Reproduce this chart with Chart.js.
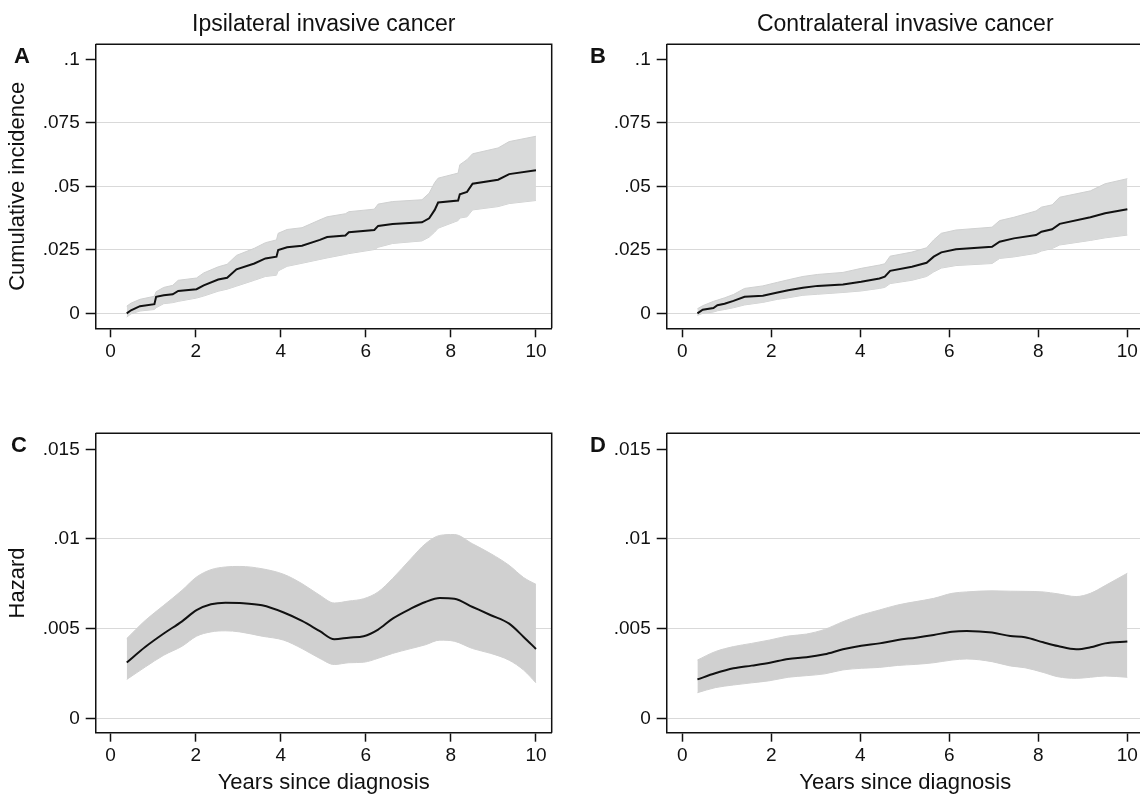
<!DOCTYPE html>
<html>
<head>
<meta charset="utf-8">
<title>Cumulative incidence and hazard</title>
<script src="https://cdn.jsdelivr.net/npm/chart.js@4.4.1/dist/chart.umd.min.js"></script>
<style>
  html, body { margin: 0; padding: 0; background: #fff; overflow: hidden; }
  #page { position: relative; width: 1140px; height: 796px; overflow: hidden; }
  canvas { position: absolute; }
  .tag { position: absolute; font: bold 22px 'Liberation Sans', Arial, sans-serif; line-height: 22px; color: #111; }
</style>
</head>
<body>
<div id="page">
  <canvas id="chart-a" width="570" height="390" style="left:0;top:0;width:570px;height:390px"></canvas>
  <canvas id="chart-b" width="600" height="390" style="left:570px;top:0;width:600px;height:390px"></canvas>
  <canvas id="chart-c" width="570" height="406" style="left:0;top:390px;width:570px;height:406px"></canvas>
  <canvas id="chart-d" width="600" height="406" style="left:570px;top:390px;width:600px;height:406px"></canvas>
  <div class="tag" style="left:14px;top:45px">A</div>
  <div class="tag" style="left:590px;top:45px">B</div>
  <div class="tag" style="left:11px;top:434px">C</div>
  <div class="tag" style="left:590px;top:434px">D</div>
</div>
<script>
/* ---- axis ticks ---- */
const xTicks = [0, 2, 4, 6, 8, 10];
const xTickLabels = ['0', '2', '4', '6', '8', '10'];
const ciTicks = [0, 0.025, 0.05, 0.075, 0.1];
const ciTickLabels = ['0', '.025', '.05', '.075', '.1'];
const hzTicks = [0, 0.005, 0.01, 0.015];
const hzTickLabels = ['0', '.005', '.01', '.015'];

/* ---- A: ipsilateral, cumulative incidence ---- */
const aYears = [0.38, 0.48, 0.69, 1.03, 1.07, 1.25, 1.46, 1.59, 2.02, 2.19, 2.53, 2.74, 2.96, 3.38, 3.64, 3.9, 3.94, 4.15, 4.5, 4.92, 5.09, 5.52, 5.6, 6.2, 6.29, 6.63, 7.32, 7.49, 7.62, 7.7, 8.17, 8.21, 8.38, 8.51, 9.11, 9.37, 10];
const aEst = [0, 0.0012, 0.0028, 0.0036, 0.0065, 0.0071, 0.0075, 0.0088, 0.0095, 0.011, 0.0133, 0.014, 0.0173, 0.0196, 0.0216, 0.0223, 0.0249, 0.026, 0.0266, 0.0289, 0.030, 0.0306, 0.0319, 0.0328, 0.0344, 0.0352, 0.0358, 0.0374, 0.0407, 0.0436, 0.0444, 0.0469, 0.0478, 0.051, 0.0526, 0.0548, 0.0563];
const aHi = [0.0028, 0.004, 0.0055, 0.0067, 0.0085, 0.0102, 0.011, 0.013, 0.0139, 0.0159, 0.0183, 0.0193, 0.0228, 0.0256, 0.0278, 0.0289, 0.0315, 0.033, 0.0337, 0.0368, 0.038, 0.0392, 0.04, 0.041, 0.043, 0.044, 0.0447, 0.0473, 0.0515, 0.0532, 0.0552, 0.0585, 0.0605, 0.0628, 0.0651, 0.0676, 0.0697];
const aLo = [-0.0015, -0.0002, 0.0009, 0.0015, 0.0022, 0.0038, 0.0042, 0.0047, 0.006, 0.0068, 0.0087, 0.0095, 0.0107, 0.013, 0.0145, 0.015, 0.0167, 0.0185, 0.0197, 0.0212, 0.0218, 0.0232, 0.0235, 0.0251, 0.026, 0.0275, 0.0285, 0.030, 0.032, 0.0335, 0.0365, 0.0375, 0.038, 0.0407, 0.042, 0.0432, 0.0444];

/* ---- B: contralateral, cumulative incidence ---- */
const bYears = [0.34, 0.46, 0.7, 0.79, 0.95, 1.15, 1.4, 1.81, 2.14, 2.38, 2.71, 3.04, 3.61, 4.02, 4.43, 4.55, 4.67, 5.16, 5.49, 5.65, 5.82, 6.15, 6.96, 7.13, 7.45, 7.95, 8.07, 8.31, 8.48, 9.17, 9.5, 10];
const bEst = [0, 0.0014, 0.0021, 0.0032, 0.0038, 0.0049, 0.0065, 0.0069, 0.0082, 0.0091, 0.0101, 0.0108, 0.0113, 0.0124, 0.0137, 0.0144, 0.0167, 0.0183, 0.0199, 0.0223, 0.024, 0.0252, 0.0262, 0.0282, 0.0295, 0.0308, 0.0321, 0.0331, 0.0352, 0.0378, 0.0394, 0.041];
const bHi = [0.0018, 0.003, 0.0047, 0.0052, 0.0061, 0.0074, 0.0098, 0.0108, 0.0122, 0.0132, 0.0145, 0.0153, 0.0161, 0.0177, 0.019, 0.0195, 0.0225, 0.0241, 0.0258, 0.0289, 0.0315, 0.0328, 0.0339, 0.0365, 0.0378, 0.0403, 0.0418, 0.0427, 0.0457, 0.0482, 0.051, 0.053];
const bLo = [-0.0008, 0, 0.0005, 0.001, 0.0015, 0.0022, 0.0033, 0.0043, 0.0055, 0.0061, 0.0071, 0.0075, 0.0082, 0.0088, 0.0098, 0.0102, 0.0117, 0.013, 0.0145, 0.0163, 0.0178, 0.0188, 0.0196, 0.0216, 0.0222, 0.0236, 0.0245, 0.0255, 0.0269, 0.0287, 0.0297, 0.0308];

/* ---- C: ipsilateral, hazard ---- */
const cYears = [0.38, 0.82, 1.25, 1.68, 2.02, 2.36, 2.7, 3.04, 3.56, 4.07, 4.5, 4.92, 5.26, 5.6, 5.95, 6.29, 6.63, 7.06, 7.4, 7.74, 8.08, 8.51, 8.94, 9.37, 9.71, 10];
const cEst = [0.00311, 0.00399, 0.00473, 0.00541, 0.00603, 0.00636, 0.00645, 0.00643, 0.0063, 0.0059, 0.00543, 0.00486, 0.00441, 0.0045, 0.00458, 0.00495, 0.00556, 0.00612, 0.00649, 0.00671, 0.00667, 0.00621, 0.00575, 0.00528, 0.00454, 0.00387];
const cHi = [0.00445, 0.00547, 0.0063, 0.00714, 0.00788, 0.00829, 0.00844, 0.00847, 0.00834, 0.00803, 0.00751, 0.00686, 0.00643, 0.00654, 0.00667, 0.00705, 0.0078, 0.0089, 0.00973, 0.0102, 0.01025, 0.00973, 0.00918, 0.00853, 0.00785, 0.00747];
const cLo = [0.00217, 0.00287, 0.00352, 0.00402, 0.00458, 0.00482, 0.00488, 0.00482, 0.00458, 0.00436, 0.00389, 0.00334, 0.003, 0.0031, 0.00313, 0.00335, 0.00362, 0.00389, 0.0041, 0.00436, 0.0043, 0.00389, 0.00362, 0.00324, 0.00269, 0.00198];

/* ---- D: contralateral, hazard ---- */
const dYears = [0.34, 0.74, 1.15, 1.56, 1.97, 2.38, 2.79, 3.2, 3.61, 4.02, 4.43, 4.84, 5.25, 5.65, 6.06, 6.39, 6.96, 7.37, 7.7, 8.11, 8.44, 8.85, 9.17, 9.5, 10];
const dEst = [0.00217, 0.00251, 0.00279, 0.00294, 0.0031, 0.00331, 0.0034, 0.00357, 0.00385, 0.00405, 0.00418, 0.00437, 0.0045, 0.00465, 0.00483, 0.00487, 0.00478, 0.00459, 0.00452, 0.00424, 0.00403, 0.00385, 0.00396, 0.00418, 0.00428];
const dHi = [0.00325, 0.00372, 0.004, 0.00418, 0.00437, 0.00459, 0.0047, 0.00496, 0.00539, 0.00576, 0.00604, 0.00632, 0.00651, 0.00669, 0.00697, 0.00705, 0.00711, 0.00709, 0.00708, 0.00705, 0.00694, 0.00679, 0.00697, 0.0074, 0.00809];
const dLo = [0.00143, 0.00171, 0.00186, 0.00198, 0.0021, 0.00229, 0.00238, 0.00248, 0.0027, 0.00279, 0.00284, 0.00295, 0.00301, 0.0031, 0.00325, 0.00331, 0.00316, 0.00292, 0.00282, 0.00256, 0.00232, 0.00223, 0.00229, 0.00236, 0.00229];

const FONT = "'Liberation Sans', Arial, Helvetica, sans-serif";
const INK = '#111';
const GRID = '#d9d9d9';

const pts = (xs, ys) => xs.map((x, i) => ({ x: x, y: ys[i] }));

// top + right edges of the plot box (left/bottom come from the axis borders)
const framePlugin = {
    id: 'frame',
    afterDraw(chart) {
        const { ctx, chartArea: a } = chart;
        ctx.save();
        ctx.strokeStyle = INK;
        ctx.lineWidth = 1.5;
        ctx.beginPath();
        ctx.moveTo(a.left, a.top);
        ctx.lineTo(a.right, a.top);
        ctx.lineTo(a.right, a.bottom);
        ctx.stroke();
        ctx.restore();
    }
};

function drawPanel(id, p) {
    const curve = p.smooth ? { cubicInterpolationMode: 'monotone' } : { tension: 0 };
    const topTick = p.yTicks[p.yTicks.length - 1];

    return new Chart(document.getElementById(id), {
        type: 'line',
        data: {
            datasets: [
                Object.assign({ data: pts(p.years, p.est), borderColor: INK, borderWidth: 2, pointRadius: 0, fill: false }, curve),
                Object.assign({ data: pts(p.years, p.hi), borderColor: p.edge, borderWidth: 1, backgroundColor: p.band, pointRadius: 0, fill: '+1' }, curve),
                Object.assign({ data: pts(p.years, p.lo), borderColor: p.edge, borderWidth: 1, pointRadius: 0, fill: false }, curve),
            ]
        },
        options: {
            responsive: false,
            animation: false,
            events: [],
            layout: { padding: p.pad },
            plugins: {
                legend: { display: false },
                tooltip: { enabled: false },
                title: p.title ? {
                    display: true, text: p.title, fullSize: false, color: INK,
                    font: { family: FONT, size: 23, weight: 'normal' },
                    padding: { top: 11, bottom: 5.7 }
                } : { display: false }
            },
            scales: {
                x: {
                    type: 'linear', min: -0.35, max: 10.37,
                    afterBuildTicks: s => { s.ticks = xTicks.map(v => ({ value: v })); },
                    afterFit: s => { s.height = p.xHeight; },
                    ticks: { callback: (v, i) => xTickLabels[i], color: INK, font: { family: FONT, size: 19 }, padding: 3, maxRotation: 0, autoSkip: false },
                    grid: { drawOnChartArea: false, tickLength: 9, tickColor: INK, tickWidth: 1.5 },
                    border: { display: true, color: INK, width: 1.5 },
                    title: p.xTitle ? {
                        display: true, text: p.xTitle, color: INK,
                        font: { family: FONT, size: 22 }, padding: { top: 0, bottom: 0 }
                    } : { display: false }
                },
                y: {
                    type: 'linear', min: p.yMin, max: p.yMax,
                    afterBuildTicks: s => { s.ticks = p.yTicks.map(v => ({ value: v })); },
                    afterFit: s => { s.width = p.yWidth; },
                    ticks: { callback: (v, i) => p.yLabels[i], color: INK, font: { family: FONT, size: 19 }, padding: 6 },
                    grid: {
                        color: c => (c.tick && c.tick.value === topTick) ? 'rgba(0,0,0,0)' : GRID,
                        lineWidth: 1, tickLength: 10, tickColor: INK, tickWidth: 1.5
                    },
                    border: { display: true, color: INK, width: 1.5 },
                    title: p.yTitle ? {
                        display: true, text: p.yTitle, color: INK,
                        font: { family: FONT, size: 22 }, padding: { top: 5, bottom: 0 }
                    } : { display: false }
                }
            }
        },
        plugins: [framePlugin]
    });
}

const ciRange = { yMin: -0.0059, yMax: 0.1059, yTicks: ciTicks, yLabels: ciTickLabels, band: '#d9dada', edge: '#cfd0d0' };
const hzRange = { yMin: -0.0008, yMax: 0.015892, yTicks: hzTicks, yLabels: hzTickLabels, band: '#d0d0d0', edge: '#d0d0d0', smooth: true };

drawPanel('chart-a', Object.assign({}, ciRange, {
    years: aYears, est: aEst, hi: aHi, lo: aLo,
    title: 'Ipsilateral invasive cancer', yTitle: 'Cumulative incidence',
    pad: { left: 0, right: 18.3, top: 0, bottom: 0 }, yWidth: 95.7, xHeight: 61.7
}));
drawPanel('chart-b', Object.assign({}, ciRange, {
    years: bYears, est: bEst, hi: bHi, lo: bLo,
    title: 'Contralateral invasive cancer',
    pad: { left: 0, right: 26.2, top: 0, bottom: 0 }, yWidth: 96.7, xHeight: 61.7
}));
drawPanel('chart-c', Object.assign({}, hzRange, {
    years: cYears, est: cEst, hi: cHi, lo: cLo,
    yTitle: 'Hazard', xTitle: 'Years since diagnosis',
    pad: { left: 0, right: 18.3, top: 43.3, bottom: 0 }, yWidth: 95.7, xHeight: 63.3
}));
drawPanel('chart-d', Object.assign({}, hzRange, {
    years: dYears, est: dEst, hi: dHi, lo: dLo,
    xTitle: 'Years since diagnosis',
    pad: { left: 0, right: 26.2, top: 43.3, bottom: 0 }, yWidth: 96.7, xHeight: 63.3
}));
</script>
</body>
</html>
